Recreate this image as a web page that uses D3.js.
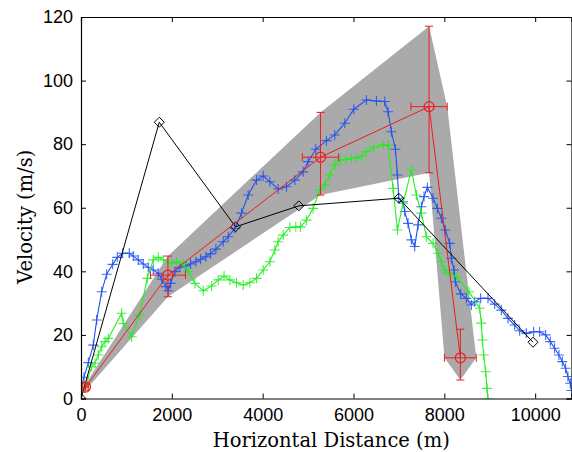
<!DOCTYPE html>
<html>
<head>
<meta charset="utf-8">
<script src="https://cdn.jsdelivr.net/npm/d3@7"></script>
<style>
    body { margin: 0; background: #fff; }
    #chart { width: 572px; height: 452px; }
</style>
</head>
<body>
<div id="chart"></div>
<script>

// tick labels
let xTicks = [0, 2000, 4000, 6000, 8000, 10000];
let yTicks = [0, 20, 40, 60, 80, 100, 120];

// blue track (m, m/s)
let blueX = [0, 66, 161, 271, 345, 455, 565, 697, 799, 917, 1063, 1151, 1261, 1371, 1481, 1591, 1701, 1775, 1870, 1921,
    1973, 2068, 2178, 2310, 2413, 2530, 2633, 2750, 2853, 2970, 3131, 3241, 3388, 3535, 3681, 3865, 4011, 4158, 4341, 4525,
    4708, 4891, 5001, 5170, 5405, 5588, 5808, 6006, 6285, 6505, 6688, 6761, 6835, 6923, 6967, 6996, 7091, 7128, 7201, 7275,
    7348, 7421, 7495, 7553, 7627, 7751, 7847, 7935, 8023, 8118, 8155, 8213, 8243, 8360, 8485, 8595, 8668, 8800, 8961, 9108,
    9255, 9401, 9548, 9658, 9805, 9966, 10098, 10230, 10333, 10428, 10523, 10597, 10670, 10721, 10773, 10800];
let blueV = [3, 6.7, 11.3, 16.8, 24.7, 33.6, 39.1, 42.2, 44.4, 45.7, 45.7, 44.8, 43.6, 42.3, 41.3, 40.4, 39.4, 37.5, 35.2, 33.9,
    36.2, 39.9, 41.3, 41.7, 42.3, 43.0, 43.8, 44.6, 45.5, 47.0, 49.3, 50.9, 53.5, 58.3, 64.0, 68.7, 70.0, 68.2, 65.9, 66.6,
    68.7, 71.3, 74.5, 78.4, 81.1, 82.9, 86.6, 91.0, 93.9, 93.6, 93.4, 90.2, 83.9, 78.4, 70.3, 63.0, 61.9, 58.8, 55.1, 49.9,
    47.8, 54.6, 60.3, 63.5, 66.4, 63.0, 59.8, 56.7, 53.0, 48.8, 44.1, 40.4, 36.7, 32.9, 31.5, 29.4, 30.4, 31.5, 31.5, 29.7,
    27.8, 25.2, 23.1, 21.3, 20.5, 21.0, 21.0, 20.0, 17.9, 15.8, 13.7, 11.6, 9.5, 6.9, 4.8, 2.5];

// green track (m, m/s)
let greenX = [0, 85, 235, 308, 381, 455, 528, 601, 895, 931, 1115, 1290, 1459, 1591, 1701, 1811, 1995, 2105, 2251, 2361,
    2508, 2691, 2875, 3021, 3150, 3278, 3425, 3571, 3718, 3865, 4011, 4158, 4268, 4341, 4451, 4598, 4730, 4833, 4965, 5111,
    5258, 5368, 5478, 5588, 5713, 5830, 5955, 6065, 6175, 6285, 6446, 6651, 6761, 6871, 6967, 7091, 7275, 7385, 7495, 7605,
    7751, 7861, 7935, 8008, 8081, 8265, 8543, 8778, 8815, 8837, 8866, 8910, 8939, 8961];
let greenV = [2, 3.5, 10, 11.1, 13.7, 16.3, 17.9, 18.9, 26.8, 23.6, 19.4, 26.3, 37.8, 43.6, 44.4, 43.6, 42.5, 43.0, 42.5, 39.9,
    36.2, 33.9, 35.4, 37.3, 38.5, 37.3, 36.4, 35.7, 36.4, 37.8, 40.4, 43.0, 46.7, 49.3, 51.4, 53.8, 54.0, 54.0, 56.1, 59.8,
    65.6, 67.2, 70.3, 73.5, 75.0, 75.2, 75.5, 75.7, 76.1, 77.6, 79.0, 79.7, 79.7, 66.1, 53.0, 61.4, 71.9, 64.0, 58.3, 50.9,
    48.8, 45.7, 43.0, 40.4, 39.6, 38.3, 33.6, 28.4, 23.7, 18.4, 13.7, 8.4, 3.2, 0];

// black diamonds
let blackX = [0, 1723, 3403, 4796, 6997, 9952];
let blackV = [0, 86.9, 54.0, 60.6, 63.0, 17.7];

// red circles with error bars
let redX = [100, 1914, 5273, 7664, 8353];
let redV = [3.6, 38.8, 75.9, 91.8, 12.8];
let redVLow = [2.6, 32, 64, 71, 5.8];
let redVHigh = [4.6, 44.8, 90, 117.1, 21.8];
let redXErr = [60, 385, 400, 400, 350];

class VelocityChart {

    constructor(parentElement) {
        this.parentElement = parentElement;
    }

    initVis() {
        let vis = this;

        vis.margin = {top: 17, right: 0.5, bottom: 53.5, left: 81};
        vis.width = 572 - vis.margin.left - vis.margin.right;
        vis.height = 452 - vis.margin.top - vis.margin.bottom;

        vis.svg = d3.select("#" + vis.parentElement)
            .append("svg")
            .attr("width", 572)
            .attr("height", 452)
            .append("g")
            .attr("transform", `translate(${vis.margin.left}, ${vis.margin.top})`);

        vis.x = d3.scaleLinear()
            .domain([0, 10800])
            .range([0, vis.width]);
        vis.y = d3.scaleLinear()
            .domain([0, 120])
            .range([vis.height, 0]);

        vis.svg.append("clipPath")
            .attr("id", "plot-clip")
            .append("rect")
            .attr("width", vis.width)
            .attr("height", vis.height);

        vis.plot = vis.svg.append("g")
            .attr("clip-path", "url(#plot-clip)");

        vis.wrangleData();
    }

    wrangleData() {
        let vis = this;

        vis.blue = blueX.map((d, i) => ({x: d, v: blueV[i]}));
        vis.green = greenX.map((d, i) => ({x: d, v: greenV[i]}));
        vis.black = blackX.map((d, i) => ({x: d, v: blackV[i]}));
        vis.red = redX.map((d, i) => ({x: d, v: redV[i], lo: redVLow[i], hi: redVHigh[i], xe: redXErr[i]}));

        // band outline: tops of the error bars, round the last point, back along the bottoms
        let n = vis.red.length;
        vis.band = [];
        vis.red.slice(0, n - 1).forEach(d => vis.band.push([d.x, d.hi]));
        let p4 = vis.red[n - 2], p5 = vis.red[n - 1];
        vis.band.push([p4.x + p4.xe, p4.v]);
        vis.band.push([p5.x + p5.xe, p5.v]);
        vis.band.push([p5.x, p5.lo]);
        vis.band.push([p5.x - p5.xe, p5.v]);
        vis.red.slice(0, n - 1).reverse().forEach(d => vis.band.push([d.x, d.lo]));

        vis.updateVis();
    }

    updateVis() {
        let vis = this;

        let line = d3.line()
            .x(d => vis.x(d.x))
            .y(d => vis.y(d.v));

        // gray band
        vis.plot.append("path")
            .datum(vis.band)
            .attr("fill", "#aaaaaa")
            .attr("stroke", "none")
            .attr("d", d3.line().x(d => vis.x(d[0])).y(d => vis.y(d[1])).curve(d3.curveLinearClosed));

        // tracks with plus markers
        let tracks = [[vis.blue, "#1f50f0"], [vis.green, "#22ee22"]];
        tracks.forEach(t => {
            vis.plot.append("path")
                .datum(t[0])
                .attr("fill", "none")
                .attr("stroke", t[1])
                .attr("stroke-width", 1.1)
                .attr("d", line);
            vis.plot.append("g")
                .selectAll("path")
                .data(t[0])
                .enter()
                .append("path")
                .attr("d", d => {
                    let cx = vis.x(d.x), cy = vis.y(d.v);
                    return `M${cx - 5},${cy}H${cx + 5}M${cx},${cy - 5}V${cy + 5}`;
                })
                .attr("stroke", t[1])
                .attr("stroke-width", 1.1)
                .attr("opacity", 0.85);
        });

        // black line with diamonds
        vis.plot.append("path")
            .datum(vis.black)
            .attr("fill", "none")
            .attr("stroke", "black")
            .attr("stroke-width", 1)
            .attr("d", line);
        vis.plot.append("g")
            .selectAll("path")
            .data(vis.black)
            .enter()
            .append("path")
            .attr("d", d => {
                let cx = vis.x(d.x), cy = vis.y(d.v);
                return `M${cx},${cy - 5}L${cx + 5},${cy}L${cx},${cy + 5}L${cx - 5},${cy}Z`;
            })
            .attr("fill", "none")
            .attr("stroke", "black")
            .attr("stroke-width", 1);

        // red line, error bars, circles
        let red = "#ee1c1c";
        vis.plot.append("path")
            .datum(vis.red)
            .attr("fill", "none")
            .attr("stroke", red)
            .attr("stroke-width", 1)
            .attr("d", line);
        vis.plot.append("g")
            .selectAll("path")
            .data(vis.red)
            .enter()
            .append("path")
            .attr("d", d => {
                let cx = vis.x(d.x), cy = vis.y(d.v);
                let y0 = vis.y(d.lo), y1 = vis.y(d.hi);
                let x0 = vis.x(d.x - d.xe), x1 = vis.x(d.x + d.xe);
                return `M${cx},${y0}V${y1}M${cx - 4},${y0}H${cx + 4}M${cx - 4},${y1}H${cx + 4}` +
                    `M${x0},${cy}H${x1}M${x0},${cy - 4}V${cy + 4}M${x1},${cy - 4}V${cy + 4}`;
            })
            .attr("fill", "none")
            .attr("stroke", red)
            .attr("stroke-width", 1);
        vis.plot.append("g")
            .selectAll("circle")
            .data(vis.red)
            .enter()
            .append("circle")
            .attr("cx", d => vis.x(d.x))
            .attr("cy", d => vis.y(d.v))
            .attr("r", 5)
            .attr("fill", "none")
            .attr("stroke", red)
            .attr("stroke-width", 1.2);

        // Axes (ticks inward, box all round)
        let tickFont = g => g.selectAll("text")
            .attr("font-family", "'Liberation Sans', Arial, sans-serif")
            .attr("font-size", "18px")
            .attr("fill", "black");

        let xAxis = vis.svg.append("g")
            .attr("transform", `translate(0, ${vis.height})`)
            .call(d3.axisBottom(vis.x).tickValues(xTicks).tickSize(-5).tickPadding(10).tickFormat(d3.format("d")));
        xAxis.call(tickFont);
        let yAxis = vis.svg.append("g")
            .call(d3.axisLeft(vis.y).tickValues(yTicks).tickSize(-5).tickPadding(8));
        yAxis.call(tickFont);
        vis.svg.append("g")
            .call(d3.axisTop(vis.x).tickValues(xTicks).tickSize(-5).tickFormat(""));
        vis.svg.append("g")
            .attr("transform", `translate(${vis.width}, 0)`)
            .call(d3.axisRight(vis.y).tickValues(yTicks).tickSize(-5).tickFormat(""));
        vis.svg.selectAll(".domain").attr("stroke", "black").attr("stroke-width", 1.2);
        vis.svg.selectAll(".tick line").attr("stroke", "black");

        // Labels
        vis.svg.append("text")
            .text("Horizontal Distance (m)")
            .attr("x", vis.width / 2 + 5)
            .attr("y", vis.height + 48)
            .attr("text-anchor", "middle")
            .attr("font-family", "'DejaVu Serif', serif")
            .attr("font-size", "19.5px");
        vis.svg.append("text")
            .text("Velocity (m/s)")
            .attr("transform", `translate(${-49}, ${vis.height / 2 + 9}) rotate(-90)`)
            .attr("text-anchor", "middle")
            .attr("font-family", "'DejaVu Serif', serif")
            .attr("font-size", "19.5px");
    }
}

let chart = new VelocityChart("chart");
chart.initVis();

</script>
</body>
</html>
